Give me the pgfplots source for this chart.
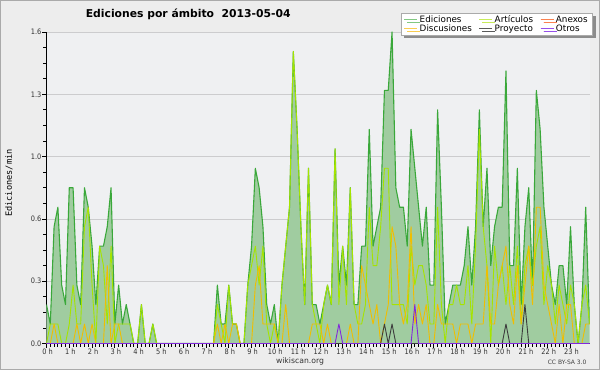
\documentclass[border=0pt]{standalone}
\usepackage{fontspec}
\setmainfont{DejaVu Sans}
\newfontfamily\tickfont[FakeStretch=0.88]{DejaVu Sans}
\newfontfamily\monof{DejaVu Sans Mono}
\usepackage{pgfplots}
\usepackage{pgfplotstable}
\pgfplotsset{compat=1.18}
\usetikzlibrary{shadows}
\definecolor{bgout}{RGB}{237,237,237}
\definecolor{bgplot}{RGB}{239,240,242}
\definecolor{frame}{RGB}{170,170,170}
\definecolor{edfill}{RGB}{160,204,160}
\definecolor{edline}{RGB}{58,168,58}
\definecolor{artline}{RGB}{165,228,0}
\definecolor{disline}{RGB}{240,190,0}
\definecolor{proline}{RGB}{60,60,60}
\definecolor{otrline}{RGB}{130,40,220}
\definecolor{anxline}{RGB}{255,120,60}
\definecolor{lgEd}{RGB}{130,200,130}
\definecolor{lgArt}{RGB}{200,236,90}
\definecolor{lgAnx}{RGB}{250,130,80}
\definecolor{lgDis}{RGB}{250,205,80}
\definecolor{lgPro}{RGB}{90,90,90}
\definecolor{lgOtr}{RGB}{150,80,235}
\definecolor{gridc}{RGB}{204,204,206}
\pgfplotstableread{
i ed art dis pro otr
0 0.2 0 0 0 0
1 0.1 0.1 0 0 0
2 0.6 0.1 0.1 0 0
3 0.7 0.1 0 0 0
4 0.3 0 0 0 0
5 0.2 0 0 0 0
6 0.8 0.1 0 0 0
7 0.8 0.3 0 0 0
8 0.3 0.1 0.1 0 0
9 0.2 0.1 0 0 0
10 0.8 0.6 0.1 0 0
11 0.7 0.7 0 0 0
12 0.5 0.3 0.1 0 0
13 0.2 0 0 0 0
14 0.5 0.5 0 0 0
15 0.5 0.4 0 0 0
16 0.6 0.1 0.4 0 0
17 0.8 0.5 0 0 0
18 0.1 0 0.1 0 0
19 0.3 0.1 0.1 0 0
20 0.1 0.1 0 0 0
21 0.2 0.1 0 0 0
22 0.1 0.1 0 0 0
23 0 0 0 0 0
24 0 0 0 0 0
25 0.2 0.2 0 0 0
26 0 0 0 0 0
27 0 0 0 0 0
28 0.1 0.1 0 0 0
29 0 0 0 0 0
30 0 0 0 0 0
31 0 0 0 0 0
32 0 0 0 0 0
33 0 0 0 0 0
34 0 0 0 0 0
35 0 0 0 0 0
36 0 0 0 0 0
37 0 0 0 0 0
38 0 0 0 0 0
39 0 0 0 0 0
40 0 0 0 0 0
41 0 0 0 0 0
42 0 0 0 0 0
43 0 0 0 0 0
44 0 0 0 0 0
45 0.3 0.2 0.1 0 0
46 0.1 0.1 0 0 0
47 0.1 0 0.1 0 0
48 0.3 0.3 0 0 0
49 0.1 0.1 0.1 0 0
50 0.1 0.1 0.1 0 0
51 0 0 0 0 0
52 0 0 0 0 0
53 0.3 0.3 0 0 0
54 0.5 0.4 0 0 0
55 0.9 0.5 0.3 0 0
56 0.8 0.3 0.4 0 0
57 0.6 0.5 0.1 0 0
58 0.2 0.1 0.1 0 0
59 0.1 0 0.1 0 0
60 0.2 0.1 0.1 0 0
61 0 0 0 0 0
62 0.3 0.3 0 0 0
63 0.5 0.5 0.2 0 0
64 0.7 0.7 0 0 0
65 1.5 1.5 0 0 0
66 1.1 1.1 0 0 0
67 0.6 0.6 0 0 0
68 0.2 0.2 0 0 0
69 0.9 0.9 0 0 0
70 0.2 0.2 0.1 0 0
71 0.2 0.1 0.1 0 0
72 0.1 0 0.1 0 0
73 0.2 0.2 0 0 0
74 0.3 0.3 0.1 0 0
75 0.2 0.2 0 0 0
76 1.0 1.0 0 0 0
77 0.3 0.2 0 0 0.1
78 0.5 0.5 0 0 0
79 0.3 0.2 0 0 0
80 0.8 0.8 0.1 0 0
81 0.2 0.2 0 0 0
82 0.2 0.1 0 0 0
83 0.5 0.1 0.4 0 0
84 0.5 0.2 0.3 0 0
85 1.1 0.7 0.2 0 0
86 0.5 0.4 0.1 0 0
87 0.6 0.4 0.2 0 0
88 0.7 0.6 0 0 0
89 1.3 0.9 0.1 0.1 0
90 1.3 0.9 0.2 0 0
91 1.6 0.2 0.6 0.1 0
92 0.8 0.2 0.5 0 0
93 0.7 0.2 0.2 0 0
94 0.7 0.2 0.1 0 0
95 0.5 0.1 0.2 0 0
96 1.1 0.5 0.6 0 0
97 0.9 0.3 0.1 0 0.2
98 0.7 0.4 0.2 0 0
99 0.5 0.4 0.1 0 0
100 0.7 0.3 0.2 0 0
101 0.3 0.1 0 0 0
102 0.3 0.1 0 0 0
103 1.2 0.7 0.2 0 0
104 0.7 0.2 0.1 0 0
105 0.1 0 0.1 0 0
106 0.2 0.2 0.1 0 0
107 0.3 0.2 0.1 0 0
108 0.3 0.3 0 0 0
109 0.3 0.2 0.1 0 0
110 0.4 0.2 0.1 0 0
111 0.6 0.4 0.1 0 0
112 0.3 0.1 0 0 0
113 0.6 0.5 0.1 0 0
114 1.2 1.1 0.1 0 0
115 0.6 0.6 0.1 0 0
116 0.9 0.4 0.4 0 0
117 0.4 0 0.1 0 0
118 0.6 0.5 0.1 0 0
119 0.7 0.3 0.3 0 0
120 0.7 0.4 0.4 0 0
121 1.4 0.2 0.5 0.1 0
122 0.4 0.4 0.2 0 0
123 0.4 0.2 0.1 0 0
124 0.9 0.5 0.4 0 0
125 0.2 0.1 0.1 0 0
126 0.6 0.4 0.3 0.2 0
127 0.8 0.5 0.5 0 0
128 0.3 0.3 0.2 0 0
129 1.3 0.5 0.7 0 0
130 1.1 0.6 0.7 0 0
131 0.7 0.2 0.3 0 0
132 0.5 0.4 0.2 0 0
133 0.3 0.3 0.1 0 0
134 0.2 0.1 0 0 0
135 0.4 0.3 0.2 0 0
136 0.4 0.2 0 0 0
137 0.2 0.1 0.2 0 0
138 0.6 0.3 0.2 0 0
139 0.2 0.2 0 0 0
140 0 0 0 0 0
141 0.2 0.2 0 0 0
142 0.7 0.3 0.1 0 0
143 0.1 0.1 0.1 0 0
}\data
\begin{document}
\begin{tikzpicture}[x=1pt,y=1pt]
\fill[bgout] (0,0) rectangle (600,370);
\draw[frame, line width=1pt] (0.5,0.5) rectangle (599.5,369.5);
\begin{axis}[
  at={(46.5pt,26.5pt)}, anchor=south west,
  scale only axis, width=543pt, height=311.5pt,
  xmin=0, xmax=143, ymin=0, ymax=1.6,
  axis background/.style={fill=bgplot},
  axis x line*=bottom, axis y line*=left,
  axis line style={line width=1.4pt, black},
  xtick={0,6,...,138},
  xticklabels={0 h,1 h,2 h,3 h,4 h,5 h,6 h,7 h,8 h,9 h,10 h,11 h,12 h,13 h,14 h,15 h,16 h,17 h,18 h,19 h,20 h,21 h,22 h,23 h},
  minor x tick num=5,
  ytick={0,0.32,0.64,0.96,1.28,1.6},
  yticklabels={0.0,0.3,0.6,1.0,1.3,1.6},
  minor y tick num=3,
  tick align=outside,
  major tick length=4pt, minor tick length=3pt,
  tick style={black, line width=0.8pt},
  ymajorgrids, grid style={gridc, line width=0.8pt},
  ticklabel style={font=\tickfont\fontsize{7.5}{8}\selectfont, text=black!80},
  xticklabel style={inner sep=1pt, xshift=1pt},
  yticklabel style={inner sep=1pt},
  title={Ediciones por ámbito\ \ 2013-05-04},
  title style={at={(axis description cs:0.2611,1)}, anchor=base, yshift=8pt, font=\bfseries\fontsize{10.8}{12}\selectfont},
  ylabel={Ediciones/min},
  ylabel style={at={(axis description cs:-0.069,0.515)}, anchor=center, font=\monof\fontsize{8.6}{9}\selectfont},
  legend columns=3,
  legend cell align=left,
  legend image code/.code={\path (0pt,0pt) -- (13pt,0pt); \draw[#1] (0pt,0pt) -- (8pt,0pt);},
  legend style={at={(axis description cs:1.0064,1.062)}, anchor=north east,
    draw=frame, fill=white, line width=0.6pt,
    font=\fontsize{8.8}{9}\selectfont, inner xsep=3pt, inner ysep=0.5pt, row sep=-3.5pt,
    /tikz/every even column/.append style={column sep=5pt},
    drop shadow={shadow xshift=3pt, shadow yshift=-3pt, fill=black!45, opacity=1}},
]
\addlegendimage{lgEd, line width=0.8pt}
\addlegendentry{Ediciones}
\addlegendimage{lgArt, line width=0.8pt}
\addlegendentry{Artículos}
\addlegendimage{lgAnx, line width=0.8pt}
\addlegendentry{Anexos}
\addlegendimage{lgDis, line width=0.8pt}
\addlegendentry{Discusiones}
\addlegendimage{lgPro, line width=0.8pt}
\addlegendentry{Proyecto}
\addlegendimage{lgOtr, line width=0.8pt}
\addlegendentry{Otros}
\addplot[forget plot, draw=none, fill=edfill] table[x=i,y=ed]{\data} \closedcycle;
\addplot[forget plot, edline, line width=1.1pt, line join=round] table[x=i,y=ed]{\data};
\addplot[forget plot, artline, line width=0.9pt, line join=round] table[x=i,y=art]{\data};
\addplot[forget plot, disline, line width=0.9pt, line join=round] table[x=i,y=dis]{\data};
\addplot[forget plot, proline, line width=0.9pt, line join=round] table[x=i,y=pro]{\data};
\addplot[forget plot, otrline, line width=0.9pt, line join=round] table[x=i,y=otr]{\data};
\end{axis}
\node[font=\fontsize{7.7}{8}\selectfont, text=black!80] at (300,8.5) {wikiscan.org};
\node[font=\fontsize{6}{7}\selectfont, text=black!75, anchor=east] at (590,8) {CC BY-SA 3.0};
\end{tikzpicture}
\end{document}
